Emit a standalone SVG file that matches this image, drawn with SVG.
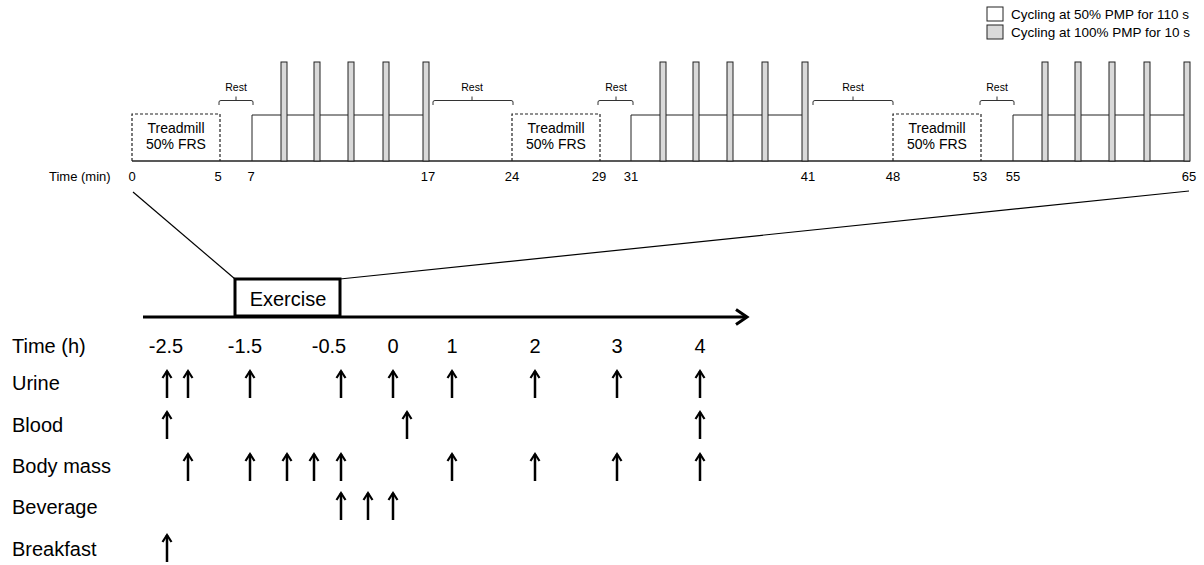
<svg xmlns="http://www.w3.org/2000/svg" width="1204" height="565" viewBox="0 0 1204 565">
<style>
text{font-family:"Liberation Sans",Arial,sans-serif;fill:#000}
.lg{font-size:13.5px}
.tm{font-size:13px;text-anchor:middle}
.tr{font-size:14px;text-anchor:middle}
.rs{font-size:10.5px;text-anchor:middle}
.big{font-size:20px}
.bigc{font-size:20px;text-anchor:middle}
.bar{fill:#d9d9d9;stroke:#222;stroke-width:1}
.blk{fill:none;stroke:#222;stroke-width:1}
.dash{fill:none;stroke:#222;stroke-width:1.2;stroke-dasharray:3,2}
.br{fill:none;stroke:#333;stroke-width:1}
.up{stroke:#000;stroke-width:2.5;marker-end:url(#ah)}
</style>
<defs>
<marker id="ah" markerUnits="userSpaceOnUse" markerWidth="20" markerHeight="20" refX="0" refY="0" viewBox="-10 -10 20 20" orient="auto" overflow="visible">
<path d="M-7,-4.5 L0,0 L-7,4.5" fill="none" stroke="#000" stroke-width="2.2" stroke-linejoin="miter"/>
</marker>
<marker id="axh" markerUnits="userSpaceOnUse" markerWidth="30" markerHeight="30" refX="0" refY="0" viewBox="-15 -15 30 30" orient="auto" overflow="visible">
<path d="M-11,-7.5 L0,0 L-11,7.5" fill="none" stroke="#000" stroke-width="3"/>
</marker>
</defs>

<g id="legend">
<rect x="987" y="7" width="16" height="14" fill="#fff" stroke="#222" stroke-width="1"/>
<text class="lg" x="1011" y="19">Cycling at 50% PMP for 110 s</text>
<rect x="987" y="25" width="16" height="14" fill="#d9d9d9" stroke="#222" stroke-width="1"/>
<text class="lg" x="1011" y="37">Cycling at 100% PMP for 10 s</text>
</g>

<g id="protocol-minutes">
<line x1="132" y1="161" x2="1190" y2="161" stroke="#222" stroke-width="1.5"/>
<g id="treadmill-1">
<path class="dash" d="M132,161 V114 H220 V161"/>
<text class="tr" x="176" y="133">Treadmill</text>
<text class="tr" x="176" y="149">50% FRS</text>
</g>
<g id="treadmill-2">
<path class="dash" d="M512,161 V114 H600 V161"/>
<text class="tr" x="556" y="133">Treadmill</text>
<text class="tr" x="556" y="149">50% FRS</text>
</g>
<g id="treadmill-3">
<path class="dash" d="M893,161 V114 H981 V161"/>
<text class="tr" x="937" y="133">Treadmill</text>
<text class="tr" x="937" y="149">50% FRS</text>
</g>
<g id="rest-1">
<path class="br" d="M219,105 V102 Q219,100.5 221,100.5 H251 Q253,100.5 253,102 V105 M236,100.5 V96.5"/>
<text class="rs" x="236" y="91">Rest</text>
</g>
<g id="rest-2">
<path class="br" d="M433,105 V102 Q433,100.5 435,100.5 H511 Q513,100.5 513,102 V105 M472,100.5 V96.5"/>
<text class="rs" x="472" y="91">Rest</text>
</g>
<g id="rest-3">
<path class="br" d="M598,105 V102 Q598,100.5 600,100.5 H631 Q633,100.5 633,102 V105 M616,100.5 V96.5"/>
<text class="rs" x="616" y="91">Rest</text>
</g>
<g id="rest-4">
<path class="br" d="M813,105 V102 Q813,100.5 815,100.5 H891 Q893,100.5 893,102 V105 M853,100.5 V96.5"/>
<text class="rs" x="853" y="91">Rest</text>
</g>
<g id="rest-5">
<path class="br" d="M980,105 V102 Q980,100.5 982,100.5 H1012 Q1014,100.5 1014,102 V105 M997,100.5 V96.5"/>
<text class="rs" x="997" y="91">Rest</text>
</g>
<g id="cycling-1">
<path class="blk" d="M252,161 V115 H423"/>
<rect class="bar" x="281" y="62" width="6" height="99"/>
<rect class="bar" x="314" y="62" width="6" height="99"/>
<rect class="bar" x="348" y="62" width="6" height="99"/>
<rect class="bar" x="383" y="62" width="6" height="99"/>
<rect class="bar" x="423" y="62" width="6" height="99"/>
</g>
<g id="cycling-2">
<path class="blk" d="M631,161 V115 H802"/>
<rect class="bar" x="660" y="62" width="6" height="99"/>
<rect class="bar" x="693" y="62" width="6" height="99"/>
<rect class="bar" x="727" y="62" width="6" height="99"/>
<rect class="bar" x="762" y="62" width="6" height="99"/>
<rect class="bar" x="802" y="62" width="6" height="99"/>
</g>
<g id="cycling-3">
<path class="blk" d="M1013,161 V115 H1184"/>
<rect class="bar" x="1042" y="62" width="6" height="99"/>
<rect class="bar" x="1075" y="62" width="6" height="99"/>
<rect class="bar" x="1109" y="62" width="6" height="99"/>
<rect class="bar" x="1144" y="62" width="6" height="99"/>
<rect class="bar" x="1184" y="62" width="6" height="99"/>
</g>
<text x="49" y="181" style="font-size:13px">Time (min)</text>
<text class="tm" x="132" y="181">0</text>
<text class="tm" x="218" y="181">5</text>
<text class="tm" x="251" y="181">7</text>
<text class="tm" x="428" y="181">17</text>
<text class="tm" x="512" y="181">24</text>
<text class="tm" x="599" y="181">29</text>
<text class="tm" x="631" y="181">31</text>
<text class="tm" x="808" y="181">41</text>
<text class="tm" x="893" y="181">48</text>
<text class="tm" x="980" y="181">53</text>
<text class="tm" x="1013" y="181">55</text>
<text class="tm" x="1189" y="181">65</text>
</g>

<g id="connectors">
<line x1="133" y1="192" x2="235" y2="279" stroke="#000" stroke-width="1.2"/>
<line x1="340" y1="279" x2="1189" y2="191" stroke="#000" stroke-width="1.2"/>
<line x1="143" y1="317" x2="747" y2="317" stroke="#000" stroke-width="3" marker-end="url(#axh)"/>
</g>

<g id="exercise">
<rect x="235" y="279" width="105" height="37" fill="#fff" stroke="#000" stroke-width="3"/>
<text class="bigc" x="288" y="306">Exercise</text>
</g>

<g id="time-h">
<text class="big" x="12" y="353">Time (h)</text>
<text class="bigc" x="166" y="353">-2.5</text>
<text class="bigc" x="245" y="353">-1.5</text>
<text class="bigc" x="329" y="353">-0.5</text>
<text class="bigc" x="393" y="353">0</text>
<text class="bigc" x="452" y="353">1</text>
<text class="bigc" x="535" y="353">2</text>
<text class="bigc" x="617" y="353">3</text>
<text class="bigc" x="700" y="353">4</text>
</g>

<g id="urine">
<text class="big" x="12" y="390">Urine</text>
<line class="up" x1="167" y1="398" x2="167" y2="371"/>
<line class="up" x1="188" y1="398" x2="188" y2="371"/>
<line class="up" x1="250" y1="398" x2="250" y2="371"/>
<line class="up" x1="341" y1="398" x2="341" y2="371"/>
<line class="up" x1="393" y1="398" x2="393" y2="371"/>
<line class="up" x1="452" y1="398" x2="452" y2="371"/>
<line class="up" x1="535" y1="398" x2="535" y2="371"/>
<line class="up" x1="617" y1="398" x2="617" y2="371"/>
<line class="up" x1="700" y1="398" x2="700" y2="371"/>
</g>

<g id="blood">
<text class="big" x="12" y="432">Blood</text>
<line class="up" x1="167" y1="439" x2="167" y2="412"/>
<line class="up" x1="407" y1="439" x2="407" y2="412"/>
<line class="up" x1="700" y1="439" x2="700" y2="412"/>
</g>

<g id="body-mass">
<text class="big" x="12" y="473">Body mass</text>
<line class="up" x1="188" y1="481" x2="188" y2="454"/>
<line class="up" x1="250" y1="481" x2="250" y2="454"/>
<line class="up" x1="287" y1="481" x2="287" y2="454"/>
<line class="up" x1="314" y1="481" x2="314" y2="454"/>
<line class="up" x1="341" y1="481" x2="341" y2="454"/>
<line class="up" x1="452" y1="481" x2="452" y2="454"/>
<line class="up" x1="535" y1="481" x2="535" y2="454"/>
<line class="up" x1="617" y1="481" x2="617" y2="454"/>
<line class="up" x1="700" y1="481" x2="700" y2="454"/>
</g>

<g id="beverage">
<text class="big" x="12" y="514">Beverage</text>
<line class="up" x1="341" y1="520" x2="341" y2="493"/>
<line class="up" x1="368" y1="520" x2="368" y2="493"/>
<line class="up" x1="393" y1="520" x2="393" y2="493"/>
</g>

<g id="breakfast">
<text class="big" x="12" y="556">Breakfast</text>
<line class="up" x1="167" y1="562" x2="167" y2="535"/>
</g>
</svg>
